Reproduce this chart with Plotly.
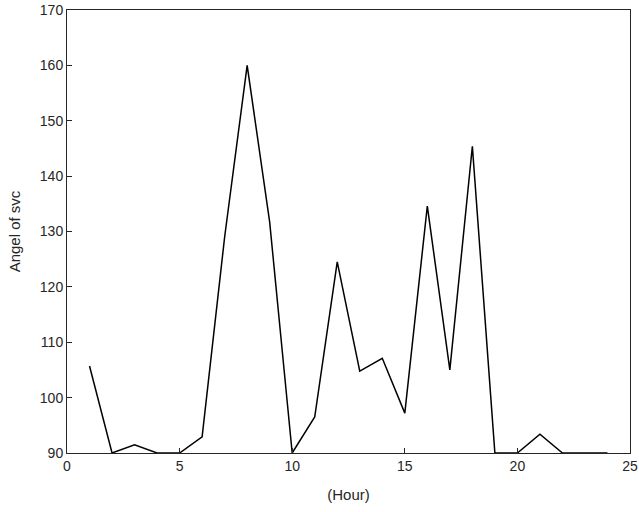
import plotly.graph_objects as go

hours = list(range(1, 25))
angle = [105.7, 90, 91.5, 90, 90, 92.9, 129, 160, 131.7, 90, 96.5, 124.5,
         104.8, 107.1, 97.2, 134.6, 105, 145.4, 90, 90, 93.4, 90, 90, 90]

fnt = dict(family="Liberation Sans, Arial", size=14, color="#262626")
ax = dict(showline=True, linecolor="#262626", linewidth=1, mirror=True,
          ticks="inside", ticklen=5, tickcolor="#262626", showgrid=False,
          zeroline=False, tickfont=fnt, automargin=False)
fig = go.Figure(go.Scatter(x=hours, y=angle, mode="lines",
                           line=dict(color="black", width=1.5)))
fig.update_layout(
    width=639, height=512, autosize=False, plot_bgcolor="white", paper_bgcolor="white",
    margin=dict(l=67, r=9, t=10, b=59, pad=0), showlegend=False,
    xaxis=dict(range=[0, 25], dtick=5, title=dict(text="(Hour)", standoff=16, font=dict(fnt, size=15)), **ax),
    yaxis=dict(range=[90, 170], dtick=10, title=dict(text="Angel of svc", standoff=15, font=dict(fnt, size=15)), **ax),
)
fig.write_html("out.html", config=dict(responsive=False, displayModeBar=False))
with open("out.html", encoding="utf-8") as f:
    html = f.read()
html = html.replace("<body>", '<body style="margin:0;overflow:hidden">', 1)
with open("out.html", "w", encoding="utf-8") as f:
    f.write(html)
